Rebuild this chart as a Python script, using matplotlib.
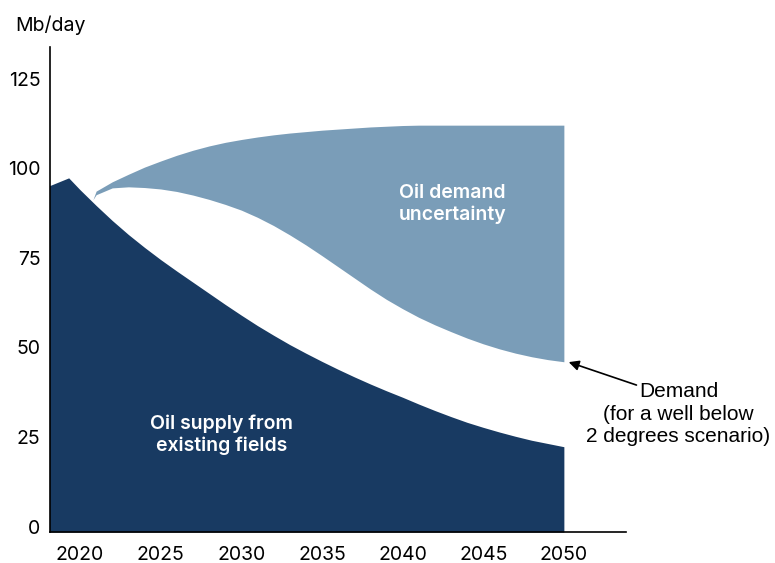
import matplotlib.pyplot as plt

plt.rcParams['font.family'] = ['Inter', 'DejaVu Sans']

# Oil supply from existing fields (Mb/day)
supply_years = [2018.1, 2019.3, 2020, 2021, 2022, 2023, 2024, 2025, 2026, 2027, 2028,
                2029, 2030, 2031, 2032, 2033, 2034, 2035, 2036, 2037, 2038, 2039,
                2040, 2041, 2042, 2043, 2044, 2045, 2046, 2047, 2048, 2049, 2050]
supply = [95.1, 97.3, 94.0, 89.6, 85.4, 81.5, 77.9, 74.5, 71.3, 68.2, 65.1,
          62.0, 59.0, 56.1, 53.4, 50.8, 48.4, 46.1, 43.9, 41.8, 39.8, 37.9,
          36.1, 34.2, 32.4, 30.7, 29.1, 27.7, 26.4, 25.2, 24.1, 23.2, 22.3]

# Oil demand uncertainty band (Mb/day)
demand_years = [2020.8, 2021, 2022, 2023, 2024, 2025, 2026, 2027, 2028, 2029, 2030,
                2031, 2032, 2033, 2034, 2035, 2036, 2037, 2038, 2039, 2040,
                2041, 2042, 2043, 2044, 2045, 2046, 2047, 2048, 2049, 2050]
demand_low = [91.2, 92.6, 94.5, 94.8, 94.6, 94.2, 93.5, 92.5, 91.3, 89.9, 88.3,
              86.3, 84.0, 81.4, 78.6, 75.6, 72.5, 69.4, 66.3, 63.4, 60.8,
              58.4, 56.3, 54.4, 52.6, 51.0, 49.6, 48.4, 47.4, 46.6, 46.0]
demand_high = [91.2, 93.6, 96.2, 98.3, 100.3, 102.0, 103.6, 105.0, 106.2, 107.2, 108.0,
               108.7, 109.3, 109.8, 110.2, 110.6, 110.9, 111.2, 111.5, 111.7, 111.9,
               112.0, 112.0, 112.0, 112.0, 112.0, 112.0, 112.0, 112.0, 112.0, 112.0]

x_ticks = [2020, 2025, 2030, 2035, 2040, 2045, 2050]
y_ticks = [0, 25, 50, 75, 100, 125]

dark = '#183a62'
light = '#7a9db8'

fig = plt.figure(figsize=(7.75, 5.63), dpi=100)
ax = fig.add_axes([0.0645, 0.055, 0.7432, 0.8615])
ax.set_xlim(2018.14, 2053.85)
ax.set_ylim(-1.5, 133.8)
bottom = ax.get_ylim()[0]

ax.fill_between(supply_years, supply, bottom, color=dark, lw=0)
ax.fill_between(demand_years, demand_low, demand_high, color=light, lw=0)

ax.text(2028.8, 25.6, "Oil supply from\nexisting fields", color='white', ha='center',
        va='center', fontsize=14, fontweight='semibold', linespacing=1.25)
ax.text(2043.1, 89.9, "Oil demand\nuncertainty", color='white', ha='center',
        va='center', fontsize=14, fontweight='semibold', linespacing=1.25)

# arrow pointing at the demand curve end
ax.annotate('', xy=(2050.3, 45.9), xytext=(2054.5, 39.5), annotation_clip=False,
            arrowprops=dict(arrowstyle='-|>', color='black', lw=1.2,
                            mutation_scale=15, shrinkA=0, shrinkB=0))
ax.text(2057.1, 31.4, "Demand\n(for a well below\n2 degrees scenario)", ha='center',
        va='center', fontsize=15, linespacing=1.25, clip_on=False,
        family=['Liberation Sans', 'DejaVu Sans'])

ax.set_xticks(x_ticks)
ax.set_yticks(y_ticks)
ax.tick_params(axis='both', length=0, labelsize=14)
ax.tick_params(axis='x', pad=10)
ax.tick_params(axis='y', pad=7)
for s in ['top', 'right']:
    ax.spines[s].set_visible(False)
for s in ['left', 'bottom']:
    ax.spines[s].set_linewidth(1.2)

fig.text(15 / 775, 1 - 25 / 563, "Mb/day", ha='left', va='center', fontsize=14)

fig.savefig("out.png", dpi=100)
